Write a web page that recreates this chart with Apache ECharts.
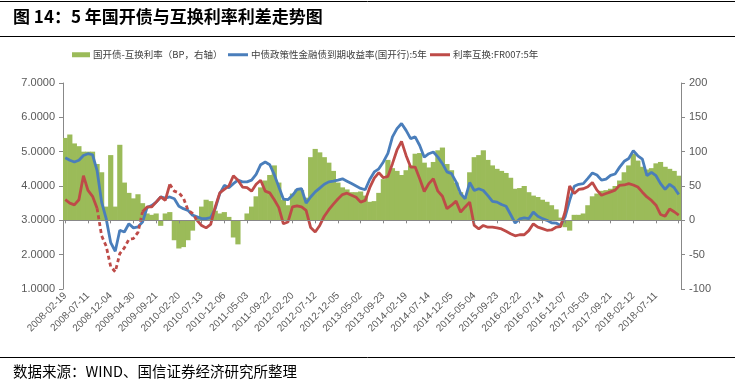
<!DOCTYPE html>
<html>
<head>
<meta charset="utf-8">
<script src="https://cdn.jsdelivr.net/npm/echarts@6/dist/echarts.min.js"></script>
<style>
html,body{margin:0;padding:0;background:#fff;}
#chart{width:735px;height:383px;}
</style>
</head>
<body>
<div id="chart"></div>
<script>
// ---- data (sampled every ~20 trading days) ----
const tickLabels = ['2008-02-19','2008-07-11','2008-12-04','2009-04-30','2009-09-21','2010-02-20','2010-07-13','2010-12-06','2011-05-03','2011-09-22','2012-02-20','2012-07-12','2012-12-05','2013-05-02','2013-09-23','2014-02-19','2014-07-14','2014-12-05','2015-05-04','2015-09-23','2016-02-22','2016-07-14','2016-12-07','2017-05-03','2017-09-21','2018-02-12','2018-07-11'];

// 中债政策性金融债到期收益率(国开行):5年 (left axis, %)
const cdbYield = [
4.82,4.75,4.70,4.75,4.89,4.94,4.91,4.45,3.53,3.05,
2.35,2.10,2.71,2.66,2.90,2.78,2.81,2.95,3.37,3.43,
3.53,3.68,3.65,3.68,3.63,3.41,3.34,3.29,3.15,3.10,
3.05,3.05,3.08,3.34,3.78,4.02,3.95,4.07,4.17,4.12,
4.12,4.17,4.34,4.62,4.70,4.62,4.33,3.97,3.62,3.60,
3.73,3.90,3.92,3.50,3.68,3.83,3.94,4.05,4.12,4.14,
4.17,4.21,4.14,4.07,4.00,3.93,3.89,4.19,4.41,4.50,
4.70,4.95,5.43,5.67,5.82,5.62,5.38,5.43,5.18,4.84,
4.94,4.99,4.84,4.65,4.41,4.36,4.12,3.78,3.63,4.10,
3.87,3.92,3.87,3.72,3.55,3.53,3.46,3.41,3.17,2.92,
3.04,3.07,3.05,3.24,3.12,3.05,3.00,2.93,2.92,2.85,
3.10,3.58,3.99,4.05,4.07,4.22,4.38,4.32,4.17,4.20,
4.31,4.35,4.55,4.72,4.80,5.03,4.88,4.78,4.30,4.40,
4.30,4.07,3.90,4.05,3.95,3.75];

// 利率互换:FR007:5年 (left axis, %)
const irsFR007 = [
3.60,3.50,3.45,3.60,4.30,3.87,3.70,3.35,2.55,2.25,
1.65,1.50,2.03,2.20,2.45,2.47,2.65,3.25,3.39,3.39,
3.53,3.68,3.58,4.05,3.85,3.80,3.65,3.30,3.20,3.00,
2.85,2.78,2.88,3.39,3.80,3.90,4.00,4.30,4.17,3.97,
3.95,3.85,4.05,4.17,3.85,3.80,3.60,3.37,2.90,2.95,
3.39,3.42,3.39,3.29,2.79,2.66,2.85,3.12,3.31,3.47,
3.62,3.75,3.79,3.73,3.67,3.53,3.58,3.95,4.23,4.39,
4.24,4.28,4.65,5.05,5.30,4.89,4.55,4.55,4.21,3.84,
4.07,4.21,3.85,3.70,3.34,3.44,3.56,3.24,3.39,3.53,
2.85,2.75,2.85,2.80,2.80,2.78,2.75,2.68,2.61,2.55,
2.58,2.58,2.70,2.90,2.80,2.76,2.71,2.72,2.80,2.82,
3.25,4.00,3.78,3.90,3.92,3.98,4.10,3.88,3.73,3.78,
3.83,3.88,4.02,4.03,4.07,4.03,3.97,3.82,3.68,3.58,
3.44,3.17,3.12,3.33,3.25,3.15];

// 国开债-互换利率 (BP, right axis)
const spreadBP = [
120,125,112,108,100,100,100,82,70,20,
95,20,110,55,40,32,38,25,10,8,
10,-8,10,12,-29,-41,-39,-29,-15,5,
20,30,28,14,10,12,5,-25,-35,0,
10,20,35,48,58,66,80,55,30,22,
39,45,44,33,92,104,99,92,84,72,
55,48,45,41,41,42,36,27,28,40,
60,88,76,72,66,73,80,97,98,84,
77,85,102,106,82,73,55,41,34,70,
92,95,102,88,80,75,72,69,62,46,
47,50,41,36,34,30,27,22,16,4,
-10,-15,8,8,10,22,35,39,43,44,
46,50,58,70,80,97,87,78,74,76,
83,85,78,75,72,65];

// index ranges where the swap series has sparse (dashed-looking) data
const dashedRanges = [[7,17],[23,29]];

// ---- build ----
const categories = cdbYield.map((_, i) => String(i));
const inRange = (i, strict) => dashedRanges.some(r => strict ? (i > r[0] && i < r[1]) : (i >= r[0] && i <= r[1]));
const redSolid = irsFR007.map((v, i) => inRange(i, true) ? null : v);
const redDashed = irsFR007.map((v, i) => inRange(i, false) ? v : null);

const GREEN = '#9BBB59', BLUE = '#4A7EBB', RED = '#BE4B48', AXIS = '#888888';
const nameG = '国开债-互换利率（BP，右轴）';
const nameB = '中债政策性金融债到期收益率(国开行):5年';
const nameR = '利率互换:FR007:5年';
const cjk = '"Noto Sans CJK SC", "Liberation Sans", sans-serif';

const chart = echarts.init(document.getElementById('chart'), null, {renderer: 'canvas'});
const legendBase = {
  top: 50, itemHeight: 4, itemWidth: 20, icon: 'rect', padding: 0,
  selectedMode: false,
  textStyle: {fontFamily: cjk, fontSize: 9.5, color: '#404040', padding: [0,0,0,-2]}
};
chart.setOption({
  animation: false,
  backgroundColor: '#ffffff',
  grid: {left: 63, right: 54, top: 83, bottom: 94, containLabel: false, outerBoundsMode: 'none'},
  legend: [
    Object.assign({}, legendBase, {left: 72, data: [nameG], itemWidth: 18, itemHeight: 5}),
    Object.assign({}, legendBase, {left: 228, data: [nameB], itemHeight: 3}),
    Object.assign({}, legendBase, {left: 430, data: [nameR], itemHeight: 3})
  ],
  xAxis: [
    {
      type: 'category', data: categories, position: 'bottom', boundaryGap: true,
      axisLine: {show: true, onZero: true, onZeroAxisIndex: 1, lineStyle: {color: AXIS, width: 1}},
      axisTick: {show: true, interval: 4, alignWithLabel: true, length: 3, inside: false, lineStyle: {color: AXIS}},
      axisLabel: {show: false},
      splitLine: {show: false},
      z: 5
    },
    {
      type: 'category', data: categories, position: 'bottom', boundaryGap: true,
      axisLine: {show: false, onZero: false},
      axisTick: {show: false},
      axisLabel: {
        show: true, interval: 4, rotate: 45, margin: 5,
        fontFamily: '"Liberation Sans", Arial, sans-serif', fontSize: 10, color: '#595959',
        showMinLabel: true, showMaxLabel: false,
        formatter: (v, idx) => (idx % 5 === 0 && tickLabels[idx / 5]) ? tickLabels[idx / 5] : ''
      },
      splitLine: {show: false}
    }
  ],
  yAxis: [
    {
      type: 'value', position: 'left', min: 1, max: 7, interval: 1,
      axisLine: {show: true, lineStyle: {color: AXIS}},
      axisTick: {show: true, length: 4, lineStyle: {color: AXIS}},
      axisLabel: {formatter: v => v.toFixed(4), fontFamily: '"Liberation Sans", Arial, sans-serif', fontSize: 11, color: '#595959', margin: 8},
      splitLine: {show: false}
    },
    {
      type: 'value', position: 'right', min: -100, max: 200, interval: 50,
      axisLine: {show: true, lineStyle: {color: AXIS}},
      axisTick: {show: true, length: 4, lineStyle: {color: AXIS}},
      axisLabel: {fontFamily: '"Liberation Sans", Arial, sans-serif', fontSize: 11, color: '#595959', margin: 8},
      splitLine: {show: false}
    }
  ],
  series: [
    {name: nameG, type: 'bar', xAxisIndex: 0, yAxisIndex: 1, data: spreadBP,
     barWidth: 5.2, itemStyle: {color: GREEN}, z: 1},
    {name: nameB, type: 'line', xAxisIndex: 0, yAxisIndex: 0, data: cdbYield,
     symbol: 'none', lineStyle: {color: BLUE, width: 2.8}, itemStyle: {color: BLUE}, z: 3},
    {name: nameR, type: 'line', xAxisIndex: 0, yAxisIndex: 0, data: redSolid,
     symbol: 'none', connectNulls: false, lineStyle: {color: RED, width: 2.8}, itemStyle: {color: RED}, z: 4},
    {name: nameR, type: 'line', xAxisIndex: 0, yAxisIndex: 0, data: redDashed,
     symbol: 'none', connectNulls: false, lineStyle: {color: RED, width: 2.8, type: [4, 3]}, itemStyle: {color: RED}, z: 4}
  ],
  graphic: [
    {type: 'line', shape: {x1: 0, y1: 1.5, x2: 735, y2: 1.5}, style: {stroke: '#000', lineWidth: 1}, silent: true},
    {type: 'line', shape: {x1: 0, y1: 36.5, x2: 735, y2: 36.5}, style: {stroke: '#000', lineWidth: 1.2}, silent: true},
    {type: 'line', shape: {x1: 0, y1: 357.5, x2: 735, y2: 357.5}, style: {stroke: '#000', lineWidth: 1}, silent: true},
    {type: 'text', left: 13, top: 8, silent: true,
     style: {text: '图 14：5 年国开债与互换利率利差走势图', fontFamily: cjk, fontWeight: 'bold', fontSize: 17, fill: '#000'}},
    {type: 'text', left: 13, top: 364, silent: true,
     style: {text: '数据来源：WIND、国信证券经济研究所整理', fontFamily: cjk, fontSize: 14.5, fill: '#000'}}
  ]
});
</script>
</body>
</html>
